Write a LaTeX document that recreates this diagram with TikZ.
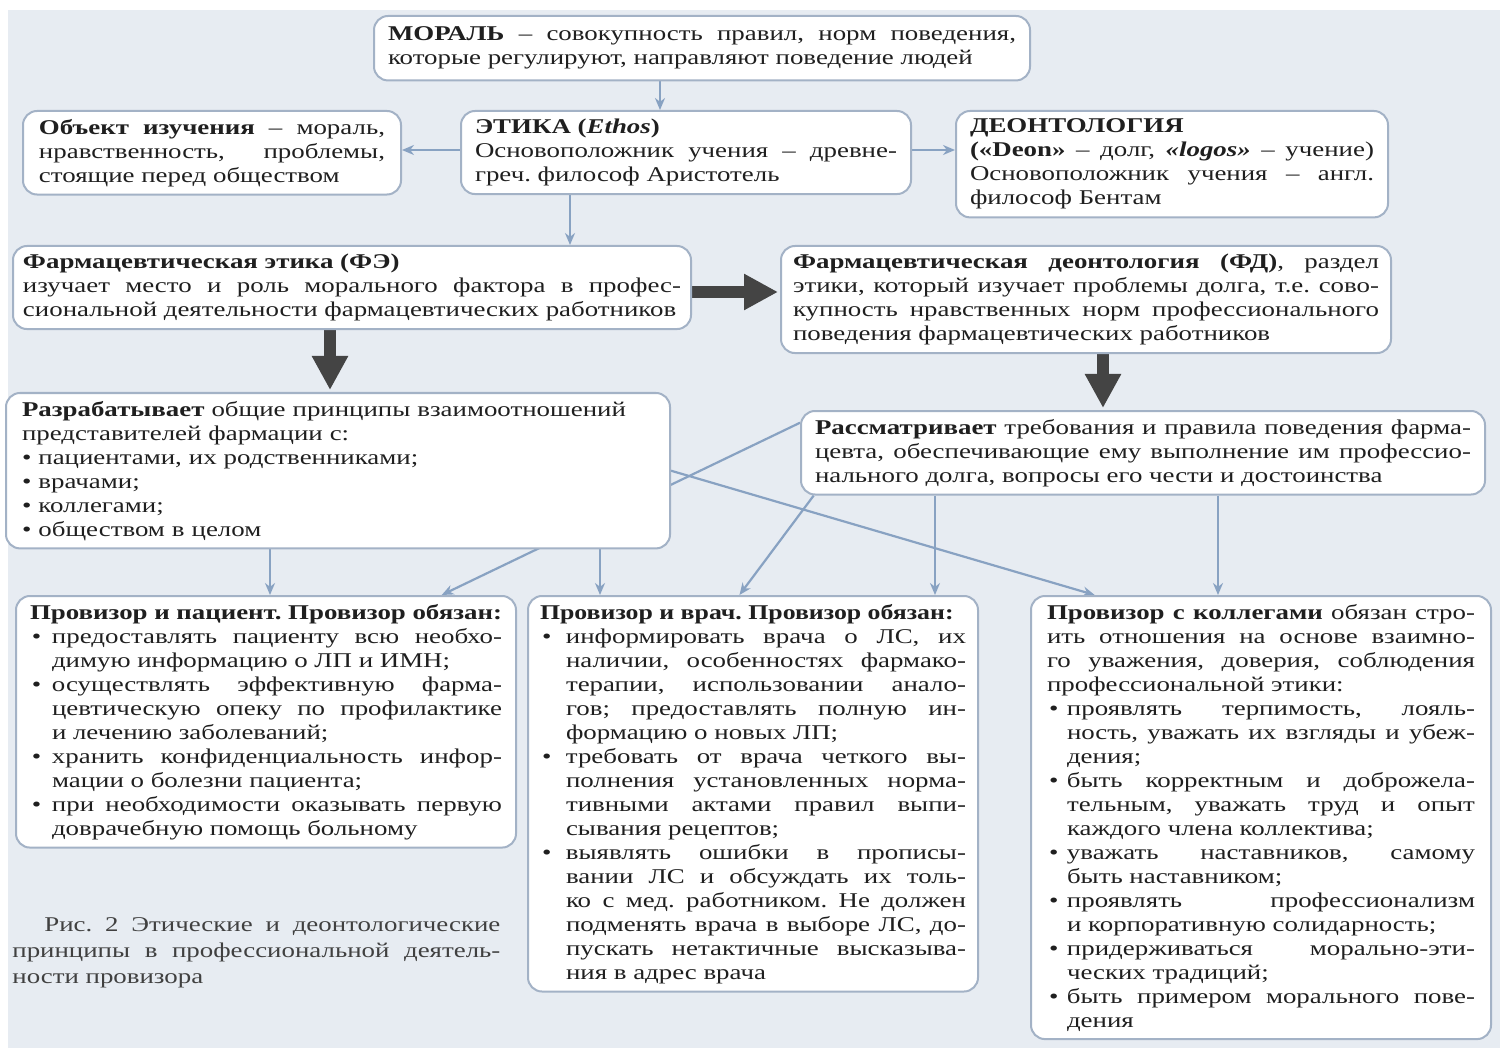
\documentclass[tikz,border=0pt]{standalone}
\usepackage{fontspec}
\usepackage{graphicx}
\setmainfont{Liberation Serif}[FakeStretch=1.28]
\usetikzlibrary{arrows.meta,calc}
\definecolor{fon}{RGB}{231,236,242}
\definecolor{rama}{RGB}{163,178,198}
\definecolor{strel}{RGB}{136,162,194}
\definecolor{tem}{RGB}{68,68,68}
\newcommand{\bpt}[1]{\par\hangindent=#1\hangafter=1\noindent\makebox[#1][l]{\hspace{1pt}•}\ignorespaces}
\pgfdeclarelayer{bg}
\pgfsetlayers{bg,main}
\tolerance=10000 \hbadness=10000
\frenchspacing

\begin{document}
\begin{tikzpicture}[x=0.5pt,y=-0.5pt,
  box/.style={draw=rama,line width=1pt,fill=white,rounded corners=7pt,inner xsep=8pt,inner ysep=4pt,anchor=north west,align=justify,font=\fontsize{10.5}{12}\selectfont,text=black!88},
  ln/.style={draw=strel,line width=1.1pt,-{Stealth[length=6pt,width=5pt]}},
  big/.style={draw=tem,line width=6pt,shorten >=1pt,-{Triangle[length=17pt,width=17pt]}}]
\useasboundingbox (0,0) rectangle (1500,1048);
\node[box,text width=314pt,inner xsep=7pt,inner ysep=5.5pt] (mor) at (373,15) {\textbf{МОРАЛЬ} – совокупность правил, норм поведения,\linebreak которые регулируют, направляют поведение людей};
\node[box,text width=173pt] (obj) at (22,110) {\textbf{Объект изучения} – мораль,\linebreak нравственность, проблемы,\linebreak стоящие перед обществом};
\node[box,text width=211pt,inner xsep=7pt] (eth) at (460,110) {\textbf{ЭТИКА (\textit{Ethos})}\\ Основоположник учения – древне-\linebreak греч. философ Аристотель};
\node[box,text width=202pt,inner xsep=7pt] (deo) at (955,110) {\textbf{ДЕОНТОЛОГИЯ}\\ \textbf{(«Deon»} – долг, \textbf{\textit{«logos»}} – учение)\linebreak Основоположник учения – англ.\linebreak философ Бентам};
\node[box,text width=329pt,inner xsep=5pt] (fe) at (12,245) {\textbf{Фармацевтическая этика (ФЭ)}\\ изучает место и роль морального фактора в профес-\linebreak сиональной деятельности фармацевтических работников};
\node[box,text width=293pt,inner xsep=6pt] (fd) at (780,245) {\textbf{Фармацевтическая деонтология (ФД)}, раздел\linebreak этики, который изучает проблемы долга, т.е. сово-\linebreak купность нравственных норм профессионального\linebreak поведения фармацевтических работников};
\node[box,text width=316pt,align=left] (raz) at (5,392) {\textbf{Разрабатывает} общие принципы взаимоотношений\\ представителей фармации с:\\ • пациентами, их родственниками;\\ • врачами;\\ • коллегами;\\ • обществом в целом};
\node[box,text width=328pt,inner xsep=7pt] (ras) at (800,410) {\textbf{Рассматривает} требования и правила поведения фарма-\linebreak цевта, обеспечивающие ему выполнение им профессио-\linebreak нального долга, вопросы его чести и достоинства};
\node[box,text width=236pt,inner xsep=7pt] (pac) at (15,595) {\textbf{Провизор и пациент. Провизор обязан:}
  \bpt{11pt}предоставлять пациенту всю необхо-\linebreak димую информацию о ЛП и ИМН;
  \bpt{11pt}осуществлять эффективную фарма-\linebreak цевтическую опеку по профилактике\linebreak и лечению заболеваний;
  \bpt{11pt}хранить конфиденциальность инфор-\linebreak мации о болезни пациента;
  \bpt{11pt}при необходимости оказывать первую\linebreak доврачебную помощь больному\par};
\node[box,text width=213pt,inner xsep=6pt] (vr) at (527,595) {\scalebox{0.96}[1]{\textbf{Провизор и врач. Провизор обязан:}}
  \bpt{13pt}информировать врача о ЛС, их\linebreak наличии, особенностях фармако-\linebreak терапии, использовании анало-\linebreak гов; предоставлять полную ин-\linebreak формацию о новых ЛП;
  \bpt{13pt}требовать от врача четкого вы-\linebreak полнения установленных норма-\linebreak тивными актами правил выпи-\linebreak сывания рецептов;
  \bpt{13pt}выявлять ошибки в прописы-\linebreak вании ЛС и обсуждать их толь-\linebreak ко с мед. работником. Не должен\linebreak подменять врача в выборе ЛС, до-\linebreak пускать нетактичные высказыва-\linebreak ния в адрес врача\par};
\node[box,text width=214pt] (kol) at (1030,595) {\textbf{Провизор с коллегами} обязан стро-\linebreak ить отношения на основе взаимно-\linebreak го уважения, доверия, соблюдения\linebreak профессиональной этики:
  \bpt{10pt}проявлять терпимость, лояль-\linebreak ность, уважать их взгляды и убеж-\linebreak дения;
  \bpt{10pt}быть корректным и доброжела-\linebreak тельным, уважать труд и опыт\linebreak каждого члена коллектива;
  \bpt{10pt}уважать наставников, самому\linebreak быть наставником;
  \bpt{10pt}проявлять профессионализм\linebreak и корпоративную солидарность;
  \bpt{10pt}придерживаться морально-эти-\linebreak ческих традиций;
  \bpt{10pt}быть примером морального пове-\linebreak дения\par};
\node[anchor=north west,text width=244pt,align=justify,inner sep=0pt,font=\fontsize{10.5}{13}\selectfont,text=black!75] (cap) at (12,917) {\hspace*{16pt}Рис. 2 Этические и деонтологические\linebreak принципы в профессиональной деятель-\linebreak ности провизора};
\coordinate (c1) at (660,0);
\coordinate (c2) at (570,0);
\coordinate (c3) at (0,150);
\coordinate (c4) at (0,292);
\coordinate (c5) at (330,0);
\coordinate (c6) at (1103,0);
\coordinate (c7) at (270,0);
\coordinate (c8) at (600,0);
\coordinate (c9) at (935,0);
\coordinate (c10) at (1218,0);
\begin{pgfonlayer}{bg}
\fill[white] (0,0) rectangle (1500,1048);
\fill[fon] (8,10) rectangle (1500,1048);
\draw[ln] (mor.south -| c1) -- (eth.north -| c1);
\draw[ln] (eth.west |- c3) -- (obj.east |- c3);
\draw[ln] (eth.east |- c3) -- (deo.west |- c3);
\draw[ln] (eth.south -| c2) -- (fe.north -| c2);
\draw[big] (fe.east |- c4) -- (fd.west |- c4);
\draw[big] (fe.south -| c5) -- (raz.north -| c5);
\draw[big] (fd.south -| c6) -- (ras.north -| c6);
\draw[ln] (raz.south -| c7) -- (pac.north -| c7);
\draw[ln] (raz.south -| c8) -- (vr.north -| c8);
\draw[ln] (raz.east) -- ($(kol.north west)!0.14!(kol.north east)$);
\draw[ln] (ras.175) -- ($(pac.north west)!0.85!(pac.north east)$);
\draw[ln] ($(ras.south west)!0.02!(ras.south east)$) -- ($(vr.north west)!0.47!(vr.north east)$);
\draw[ln] (ras.south -| c9) -- (vr.north -| c9);
\draw[ln] (ras.south -| c10) -- (kol.north -| c10);
\end{pgfonlayer}
\end{tikzpicture}
\end{document}
